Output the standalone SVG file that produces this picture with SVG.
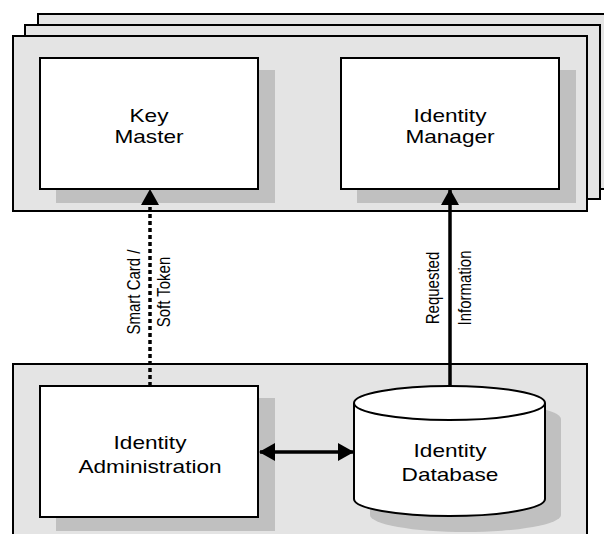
<svg xmlns="http://www.w3.org/2000/svg" width="604" height="534" viewBox="0 0 604 534">
  <style>
    .panel { fill: #e4e4e4; stroke: #000; stroke-width: 2; }
    .box { fill: #fff; stroke: #000; stroke-width: 2; }
    .shadow { fill: #c0c0c0; stroke: none; }
    .label { font-family: "Liberation Sans", Arial, sans-serif; font-size: 19px; fill: #000; text-anchor: middle; }
    .vlabel { font-family: "Liberation Sans", Arial, sans-serif; font-size: 15px; fill: #000; text-anchor: middle; }
    .link { fill: none; stroke: #000; stroke-width: 3.5; }
    .dotted { stroke-dasharray: 4 3; }
  </style>
  <defs>
    <marker id="head" viewBox="0 0 16 18" refX="15" refY="9" markerWidth="16" markerHeight="18" markerUnits="userSpaceOnUse" orient="auto-start-reverse">
      <path d="M0,0 L16,9 L0,18 Z" fill="#000"/>
    </marker>
  </defs>
  <rect width="604" height="534" fill="#fff"/>

  <!-- stacked server panels (top tier) -->
  <g id="tier-top">
    <rect class="panel" x="38" y="14" width="580" height="175"/>
    <rect class="panel" x="25" y="25" width="575" height="174"/>
    <rect class="panel" x="13" y="36" width="574" height="175"/>
  </g>

  <!-- bottom tier panel -->
  <g id="tier-bottom">
    <rect class="panel" x="13" y="364" width="574" height="190"/>
  </g>

  <g id="key-master">
    <rect class="shadow" x="56" y="70" width="219" height="133"/>
    <rect class="box" x="40" y="58" width="218" height="131"/>
    <text class="label" transform="translate(149,122) scale(1.19,1)">Key</text>
    <text class="label" transform="translate(149,143) scale(1.19,1)">Master</text>
  </g>

  <g id="identity-manager">
    <rect class="shadow" x="357" y="70" width="219" height="133"/>
    <rect class="box" x="341" y="58" width="218" height="131"/>
    <text class="label" transform="translate(450,122) scale(1.19,1)">Identity</text>
    <text class="label" transform="translate(450,143) scale(1.19,1)">Manager</text>
  </g>

  <g id="identity-administration">
    <rect class="shadow" x="56" y="398" width="219" height="133"/>
    <rect class="box" x="40" y="386" width="218" height="131"/>
    <text class="label" transform="translate(150,449) scale(1.19,1)">Identity</text>
    <text class="label" transform="translate(150,473) scale(1.19,1)">Administration</text>
  </g>

  <g id="identity-database">
    <path class="shadow" d="M370,419 A95.5,17 0 0 1 561,419 L561,515 A95.5,17 0 0 1 370,515 Z"/>
    <path class="box" d="M354,403 A95.5,17 0 0 1 545,403 L545,499 A95.5,17 0 0 1 354,499 Z"/>
    <path class="box" d="M354,403 A95.5,17 0 0 0 545,403" fill="none"/>
    <text class="label" transform="translate(450,457) scale(1.19,1)">Identity</text>
    <text class="label" transform="translate(450,481) scale(1.19,1)">Database</text>
  </g>

  <g id="connectors">
    <line class="link dotted" x1="150" y1="386" x2="150" y2="190" marker-end="url(#head)"/>
    <line class="link" x1="450" y1="386" x2="450" y2="190" marker-end="url(#head)"/>
    <line class="link" x1="260" y1="452" x2="353" y2="452" marker-start="url(#head)" marker-end="url(#head)"/>
    <text class="vlabel" transform="translate(140,292) scale(1.25,1) rotate(-90)">Smart Card /</text>
    <text class="vlabel" transform="translate(170,292) scale(1.25,1) rotate(-90)">Soft Token</text>
    <text class="vlabel" transform="translate(439,288) scale(1.25,1) rotate(-90)">Requested</text>
    <text class="vlabel" transform="translate(471,288) scale(1.25,1) rotate(-90)">Information</text>
  </g>
</svg>
